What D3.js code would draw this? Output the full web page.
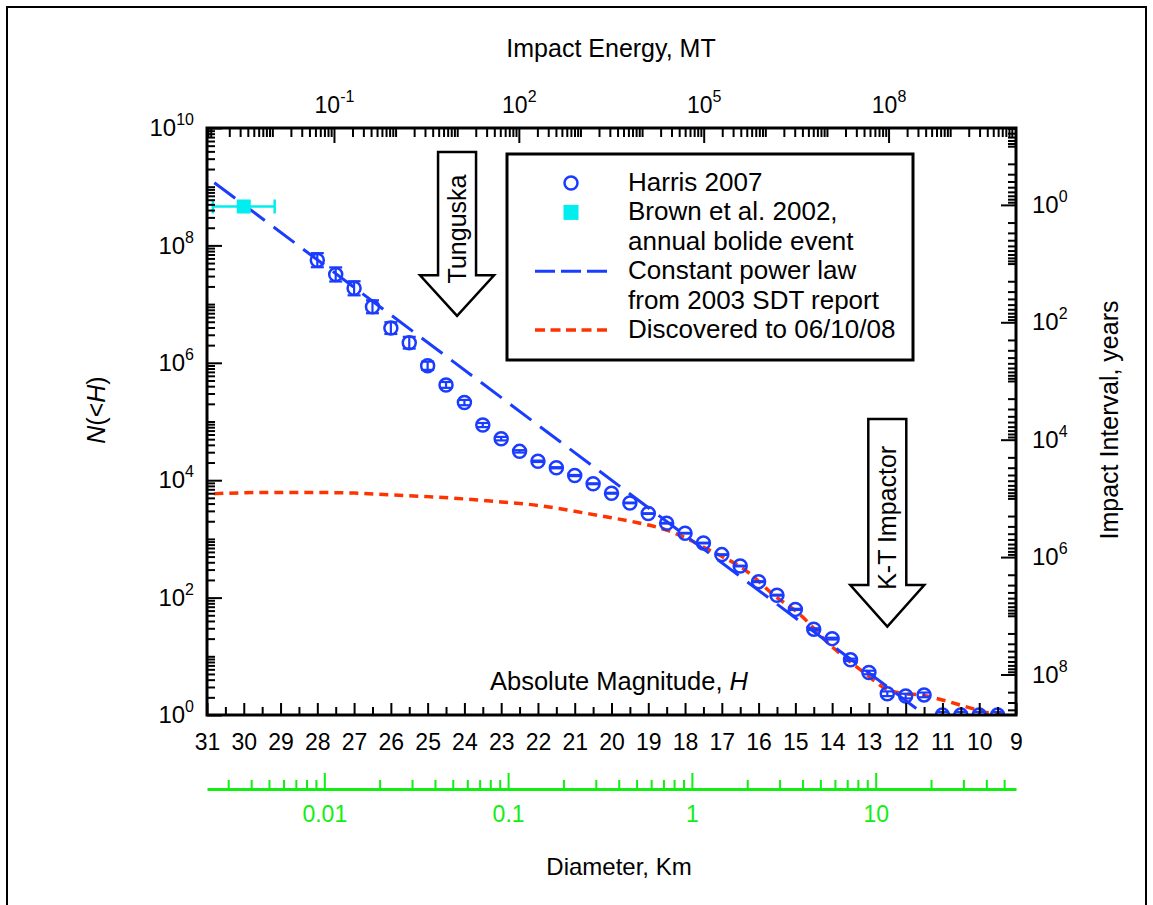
<!DOCTYPE html>
<html>
<head>
<meta charset="utf-8">
<script src="https://cdn.jsdelivr.net/npm/d3@7"></script>
<style>
  body { margin: 0; background: #fff; }
  svg { display: block; font-family: "Liberation Sans", Arial, sans-serif; }
</style>
</head>
<body>
<svg id="chart" width="1153" height="905"></svg>
<script>
// Harris 2007 cumulative NEA counts N(<H), with error half-width in dex
const harrisH = [28, 27.5, 27, 26.5, 26, 25.5, 25, 24.5, 24, 23.5, 23, 22.5, 22, 21.5, 21, 20.5,
  20, 19.5, 19, 18.5, 18, 17.5, 17, 16.5, 16, 15.5, 15, 14.5, 14, 13.5, 13, 12.5, 12, 11.5,
  11, 10.5, 10, 9.5];
const harrisN = [5.6e7, 3.2e7, 1.86e7, 9.0e6, 3.9e6, 2.2e6, 8.9e5, 4.2e5, 2.1e5, 8.7e4, 5.1e4,
  3.1e4, 2.1e4, 1.63e4, 1.2e4, 8.7e3, 6.0e3, 4.1e3, 2.7e3, 1.85e3, 1.25e3, 850, 540, 345, 187,
  110, 63, 29, 20, 8.7, 5.3, 2.3, 2.1, 2.2, 1, 1, 1, 1];
const harrisErr = [0.12, 0.12, 0.12, 0.11, 0.1, 0.1, 0.07, 0.05, 0.045, 0.035, 0.03, 0.02, 0.012,
  0.01, 0.01, 0.008, 0.008, 0.006, 0.006, 0.006, 0.006, 0.006, 0.006, 0.006, 0.008, 0.008, 0.01,
  0.015, 0.015, 0.02, 0.03, 0.04, 0.04, 0.04, 0.05, 0.05, 0.05, 0.05];

// Brown et al. 2002 annual bolide
const brownH = [30];
const brownN = [4.6e8];
const brownHLow = [30.84];
const brownHHigh = [29.16];

// constant power law (2003 SDT report), straight in log space
const powerH = [30.8, 11];
const powerN = [1.17e9, 0.6];

// discovered to 06/10/08
const discH = [30.8, 29.5, 28, 27, 26, 25, 24, 23, 22, 21, 20, 19.4, 18.5, 18, 17.5, 16.3, 15.5,
  15, 14, 13.1, 12.5, 12, 11.6, 11, 10.3, 9.7, 9.2];
const discN = [5890, 6170, 6170, 6030, 5620, 5250, 4790, 4270, 3720, 2950, 2290, 1950, 1410, 1050,
  724, 275, 100, 60, 14.5, 5.1, 2.7, 2.3, 2.2, 1.8, 1.35, 1.07, 1];

// axes
const hDomain = [31, 9];
const nDomain = [1, 1e10];
const energyDomain = [8.7e-4, 1.17e10];
const intervalDomain = [0.049, 4.9e8];
const diamDomain = [0.0023, 58];
const hLabels = d3.range(9, 32, 1);
const hMinor = d3.range(9.5, 31, 1);
const nLabels = [1, 1e2, 1e4, 1e6, 1e8, 1e10];
const energyLabels = [1e-1, 1e2, 1e5, 1e8];
const intervalLabels = [1, 1e2, 1e4, 1e6, 1e8];
const diamLabels = [0.01, 0.1, 1, 10];

const legendRows = [
  ["Harris 2007"],
  ["Brown et al. 2002,", "annual bolide event"],
  ["Constant power law", "from 2003 SDT report"],
  ["Discovered to 06/10/08"]
];

const annotations = [
  { label: "Tunguska", h: 24.2, top: 3.9e9, base: 3.1e7, tip: 6.3e6 },
  { label: "K-T Impactor", h: 12.5, top: 1.1e5, base: 164, tip: 32 }
];

const blue = "#1a3cff", red = "#ff3300", cyan = "#00eeee", green = "#11ee11";

const svg = d3.select("#chart");
const plot = { left: 207, right: 1016, top: 128, bottom: 715 };
const diamY = 789;

const x = d3.scaleLinear().domain(hDomain).range([plot.left, plot.right]);
const y = d3.scaleLog().domain(nDomain).range([plot.bottom, plot.top]);
const xE = d3.scaleLog().domain(energyDomain).range([plot.left, plot.right]);
const yT = d3.scaleLog().domain(intervalDomain).range([plot.top, plot.bottom]);
const xD = d3.scaleLog().domain(diamDomain).range([plot.left, plot.right]);

const near = (a, b) => Math.abs(Math.log10(a) - Math.log10(b)) < 1e-6;
const minorOf = (scale, majors) => scale.ticks(20).filter(v => !majors.some(m => near(v, m)));
const expOf = v => String(Math.round(Math.log10(v)));

// outer frame
svg.append("rect")
  .attr("x", 7).attr("y", 7).attr("width", 1139).attr("height", 920)
  .attr("fill", "none").attr("stroke", "#000").attr("stroke-width", 2);

svg.append("clipPath").attr("id", "clip")
  .append("rect")
  .attr("x", plot.left).attr("y", plot.top)
  .attr("width", plot.right - plot.left).attr("height", plot.bottom - plot.top);

const g = svg.append("g").attr("clip-path", "url(#clip)");
const line = d3.line().x(d => x(d[0])).y(d => y(d[1]));

// discovered curve
g.append("path")
  .datum(discH.map((h, i) => [h, discN[i]]))
  .attr("d", line.curve(d3.curveMonotoneX))
  .attr("fill", "none").attr("stroke", red).attr("stroke-width", 3.5)
  .attr("stroke-dasharray", "9,6");

// power law
g.append("path")
  .datum(powerH.map((h, i) => [h, powerN[i]]))
  .attr("d", d3.line().x(d => x(d[0])).y(d => y(d[1])))
  .attr("fill", "none").attr("stroke", blue).attr("stroke-width", 3)
  .attr("stroke-dasharray", "26,11");

// Harris error bars + circles
const harris = harrisH.map((h, i) => ({ h, n: harrisN[i], e: harrisErr[i] }));
const eb = g.selectAll("g.eb").data(harris).enter().append("g").attr("class", "eb")
  .attr("stroke", blue).attr("stroke-width", 2.2);
eb.append("line")
  .attr("x1", d => x(d.h)).attr("x2", d => x(d.h))
  .attr("y1", d => y(d.n / Math.pow(10, d.e))).attr("y2", d => y(d.n * Math.pow(10, d.e)));
[-1, 1].forEach(s => {
  eb.append("line")
    .attr("x1", d => x(d.h) - 6.5).attr("x2", d => x(d.h) + 6.5)
    .attr("y1", d => y(d.n * Math.pow(10, s * d.e))).attr("y2", d => y(d.n * Math.pow(10, s * d.e)));
});
g.selectAll("circle.harris").data(harris).enter().append("circle")
  .attr("class", "harris")
  .attr("cx", d => x(d.h)).attr("cy", d => y(d.n)).attr("r", 6.5)
  .attr("fill", "none").attr("stroke", blue).attr("stroke-width", 2.5);

// Brown et al. bolide
brownH.forEach((h, i) => {
  const cy = y(brownN[i]);
  const bg = g.append("g").attr("stroke", cyan).attr("stroke-width", 2.5);
  bg.append("line").attr("x1", x(brownHLow[i])).attr("x2", x(brownHHigh[i])).attr("y1", cy).attr("y2", cy);
  [brownHLow[i], brownHHigh[i]].forEach(e => {
    bg.append("line").attr("x1", x(e)).attr("x2", x(e)).attr("y1", cy - 7).attr("y2", cy + 7);
  });
  g.append("rect").attr("x", x(h) - 7).attr("y", cy - 7).attr("width", 14).attr("height", 14)
    .attr("fill", cyan);
});

// plot frame
svg.append("rect")
  .attr("x", plot.left).attr("y", plot.top)
  .attr("width", plot.right - plot.left).attr("height", plot.bottom - plot.top)
  .attr("fill", "none").attr("stroke", "#000").attr("stroke-width", 3);

function styleAxis(sel, color, fontSize) {
  sel.attr("font-family", null).attr("font-size", fontSize).attr("color", color);
  sel.select(".domain").remove();
  sel.selectAll(".tick line").attr("stroke-width", 2);
}
function superscript(sel, supSize, rise) {
  sel.selectAll(".tick text").each(function (d) {
    const t = d3.select(this).text(null);
    t.append("tspan").text("10");
    t.append("tspan").attr("dy", -rise).attr("font-size", supSize).text(expOf(d));
  });
}

// left axis N(<H)
svg.append("g").attr("transform", `translate(${plot.left},0)`)
  .call(d3.axisLeft(y).tickValues(minorOf(y, nLabels)).tickSizeInner(-8).tickSizeOuter(0).tickFormat(""))
  .call(s => styleAxis(s, "#000", 24));
svg.append("g").attr("transform", `translate(${plot.left},0)`)
  .call(d3.axisLeft(y).tickValues(nLabels).tickSizeInner(-15).tickSizeOuter(0).tickPadding(13))
  .call(s => styleAxis(s, "#000", 24))
  .call(s => superscript(s, 16, 11));

// right axis impact interval
svg.append("g").attr("transform", `translate(${plot.right},0)`)
  .call(d3.axisRight(yT).tickValues(minorOf(yT, intervalLabels)).tickSizeInner(-8).tickSizeOuter(0).tickFormat(""))
  .call(s => styleAxis(s, "#000", 24));
svg.append("g").attr("transform", `translate(${plot.right},0)`)
  .call(d3.axisRight(yT).tickValues(intervalLabels).tickSizeInner(-15).tickSizeOuter(0).tickPadding(16))
  .call(s => styleAxis(s, "#000", 24))
  .call(s => superscript(s, 16, 11));

// top axis impact energy
svg.append("g").attr("transform", `translate(0,${plot.top})`)
  .call(d3.axisTop(xE).tickValues(minorOf(xE, energyLabels)).tickSizeInner(-9).tickSizeOuter(0).tickFormat(""))
  .call(s => styleAxis(s, "#000", 23));
svg.append("g").attr("transform", `translate(0,${plot.top})`)
  .call(d3.axisTop(xE).tickValues(energyLabels).tickSizeInner(-15).tickSizeOuter(0).tickPadding(15))
  .call(s => styleAxis(s, "#000", 23))
  .call(s => superscript(s, 16, 11));

// bottom axis absolute magnitude
svg.append("g").attr("transform", `translate(0,${plot.bottom})`)
  .call(d3.axisBottom(x).tickValues(hMinor).tickSizeInner(-8).tickSizeOuter(0).tickFormat(""))
  .call(s => styleAxis(s, "#000", 23));
svg.append("g").attr("transform", `translate(0,${plot.bottom})`)
  .call(d3.axisBottom(x).tickValues(hLabels).tickSizeInner(-12).tickSizeOuter(0).tickPadding(19).tickFormat(d3.format("d")))
  .call(s => styleAxis(s, "#000", 23));

// diameter axis (green)
svg.append("g").attr("transform", `translate(0,${diamY})`)
  .call(d3.axisBottom(xD).tickValues(minorOf(xD, diamLabels)).tickSizeInner(-9).tickSizeOuter(0).tickFormat(""))
  .call(s => styleAxis(s, green, 23));
svg.append("g").attr("transform", `translate(0,${diamY})`)
  .call(d3.axisBottom(xD).tickValues(diamLabels).tickSizeInner(-16).tickSizeOuter(0).tickPadding(17).tickFormat(d3.format("~g")))
  .call(s => {
    s.attr("font-family", null).attr("font-size", 23).attr("color", green);
    s.selectAll(".tick line").attr("stroke-width", 2);
    s.select(".domain").attr("stroke-width", 3);
  });

// axis titles
const title = (tx, ty, text, size, rot) => svg.append("text")
  .attr("transform", `translate(${tx},${ty})` + (rot ? " rotate(-90)" : ""))
  .attr("text-anchor", "middle").attr("font-size", size).text(text);
title(611, 57, "Impact Energy, MT", 25);
title(619, 875, "Diameter, Km", 24);
title(1118, 420, "Impact Interval, years", 25, true);
const nt = svg.append("text").attr("transform", "translate(105,410) rotate(-90)")
  .attr("text-anchor", "middle").attr("font-size", 25);
nt.append("tspan").attr("font-style", "italic").text("N");
nt.append("tspan").text("(<");
nt.append("tspan").attr("font-style", "italic").text("H");
nt.append("tspan").text(")");
const am = svg.append("text").attr("x", 619).attr("y", 690)
  .attr("text-anchor", "middle").attr("font-size", 25.5);
am.append("tspan").text("Absolute Magnitude, ");
am.append("tspan").attr("font-style", "italic").text("H");

// annotation arrows
annotations.forEach(a => {
  const cx = x(a.h), yt = y(a.top), yb = y(a.base), yp = y(a.tip);
  const shaft = 19, head = 37;
  svg.append("path")
    .attr("d", `M${cx - shaft},${yt}H${cx + shaft}V${yb}H${cx + head}L${cx},${yp}L${cx - head},${yb}H${cx - shaft}Z`)
    .attr("fill", "#fff").attr("stroke", "#000").attr("stroke-width", 2.5)
    .attr("stroke-linejoin", "miter");
  svg.append("text")
    .attr("transform", `translate(${cx},${(yt + yp) / 2 - 5}) rotate(-90)`)
    .attr("text-anchor", "middle").attr("dy", "0.35em").attr("font-size", 25)
    .text(a.label);
});

// legend
const lg = svg.append("g");
lg.append("rect").attr("x", 507).attr("y", 154).attr("width", 406).attr("height", 206)
  .attr("fill", "#fff").attr("stroke", "#000").attr("stroke-width", 3);
const rowH = 29.4, base0 = 191, textX = 628, symX = 571;
let row = 0;
legendRows.forEach((lines, i) => {
  const sy = base0 + row * rowH - 8;
  if (i === 0) {
    lg.append("circle").attr("cx", symX).attr("cy", sy).attr("r", 6.5)
      .attr("fill", "none").attr("stroke", blue).attr("stroke-width", 2.5);
  } else if (i === 1) {
    lg.append("rect").attr("x", symX - 7.5).attr("y", sy - 7.5).attr("width", 15).attr("height", 15)
      .attr("fill", cyan);
  } else if (i === 2) {
    lg.append("line").attr("x1", 535).attr("x2", 608).attr("y1", sy).attr("y2", sy)
      .attr("stroke", blue).attr("stroke-width", 3).attr("stroke-dasharray", "20,6");
  } else {
    lg.append("line").attr("x1", 535).attr("x2", 608).attr("y1", sy).attr("y2", sy)
      .attr("stroke", red).attr("stroke-width", 3.5).attr("stroke-dasharray", "10,5.5");
  }
  lines.forEach(t => {
    lg.append("text").attr("x", textX).attr("y", base0 + row * rowH)
      .attr("font-size", 26).text(t);
    row++;
  });
});
</script>
</body>
</html>
